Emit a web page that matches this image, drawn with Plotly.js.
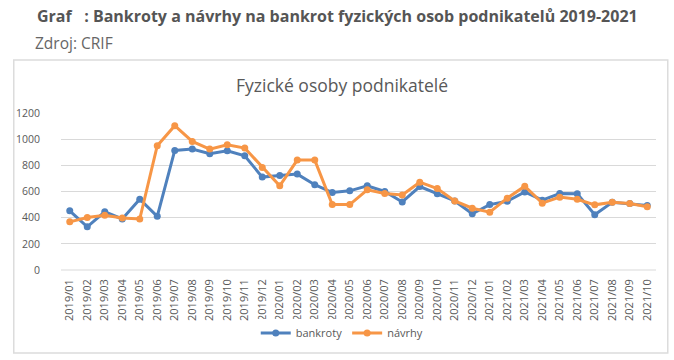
<!DOCTYPE html>
<html>
<head>
<meta charset="utf-8">
<script src="https://cdn.plot.ly/plotly-3.0.1.min.js"></script>
<style>
html,body{margin:0;padding:0;background:#fff;}
#chart{width:674px;height:360px;}
</style>
</head>
<body>
<div id="chart"></div>
<script>
const months = ["2019/01","2019/02","2019/03","2019/04","2019/05","2019/06","2019/07","2019/08","2019/09","2019/10","2019/11","2019/12",
"2020/01","2020/02","2020/03","2020/04","2020/05","2020/06","2020/07","2020/08","2020/09","2020/10","2020/11","2020/12",
"2021/01","2021/02","2021/03","2021/04","2021/05","2021/06","2021/07","2021/08","2021/09","2021/10"];
const bankroty = [452,330,445,390,541,410,914,924,888,911,873,710,722,733,652,592,605,643,600,520,638,582,528,430,
500,525,597,534,584,582,422,518,508,493];
const navrhy = [368,401,418,398,390,950,1103,983,924,957,932,784,643,840,840,500,500,613,585,574,671,622,528,472,
442,549,640,511,557,541,498,518,508,483];
const yTicks = [0,200,400,600,800,1000,1200];

const pageTitle = "Graf   : Bankroty a návrhy na bankrot fyzických osob podnikatelů 2019-2021";
const source = "Zdroj: CRIF";
const chartTitle = "Fyzické osoby podnikatelé";

// plot area pixel geometry
const L = 61.25, R = 656.25, T = 113, B = 270;
const W = 674, H = 360;
const px = x => (x - L) / (R - L);
const py = y => (B - y) / (B - T);

const traces = [
  {x: months, y: bankroty, name: "bankroty", type: "scatter", mode: "lines+markers",
   line: {color: "#4F81BD", width: 3}, marker: {color: "#4F81BD", size: 7}},
  {x: months, y: navrhy, name: "návrhy", type: "scatter", mode: "lines+markers",
   line: {color: "#F79646", width: 3}, marker: {color: "#F79646", size: 7}}
];

const layout = {
  width: W, height: H,
  margin: {l: L, r: W - R, t: T, b: H - B, pad: 0},
  paper_bgcolor: "#ffffff", plot_bgcolor: "#ffffff",
  showlegend: true,
  legend: {orientation: "h", x: px(342), xanchor: "center", y: py(333), yanchor: "middle",
    font: {family: "Open Sans, sans-serif", size: 11, color: "#595959"}, itemwidth: 30, tracegroupgap: 0},
  xaxis: {type: "category", range: [-0.5, months.length - 0.5], showgrid: false, zeroline: false,
    showline: false, ticks: "", tickangle: -90, ticklabelstandoff: 6,
    tickfont: {family: "Open Sans, sans-serif", size: 11, color: "#595959"}, fixedrange: true},
  yaxis: {range: [0, 1200], tickvals: yTicks, ticktext: yTicks.map(String), showgrid: true,
    gridcolor: "#d9d9d9", gridwidth: 1, zeroline: false, showline: false, ticks: "",
    ticklabelstandoff: 20,
    tickfont: {family: "Open Sans, sans-serif", size: 10.5, color: "#595959"}, fixedrange: true},
  shapes: [
    {type: "rect", xref: "paper", yref: "paper", x0: px(14), x1: px(668), y0: py(353), y1: py(60),
     line: {color: "#dcdcdc", width: 1.5}, fillcolor: "rgba(0,0,0,0)", layer: "below"},
    {type: "line", xref: "paper", yref: "paper", x0: px(L), x1: px(R), y0: 0, y1: 0,
     line: {color: "#d9d9d9", width: 1}, layer: "below"}
  ],
  annotations: [
    {text: "<b>" + pageTitle + "</b>", xref: "paper", yref: "paper", x: px(35), y: py(16),
     xanchor: "left", yanchor: "middle", showarrow: false,
     font: {family: "Open Sans, sans-serif", size: 16, color: "#555555"}},
    {text: source, xref: "paper", yref: "paper", x: px(33), y: py(43),
     xanchor: "left", yanchor: "middle", showarrow: false,
     font: {family: "Open Sans, sans-serif", size: 15.5, color: "#666666"}},
    {text: chartTitle, xref: "paper", yref: "paper", x: px(342), y: py(85),
     xanchor: "center", yanchor: "middle", showarrow: false,
     font: {family: "Open Sans, sans-serif", size: 17.5, color: "#595959"}}
  ]
};

Plotly.newPlot("chart", traces, layout, {displayModeBar: false, staticPlot: true});
</script>
</body>
</html>
